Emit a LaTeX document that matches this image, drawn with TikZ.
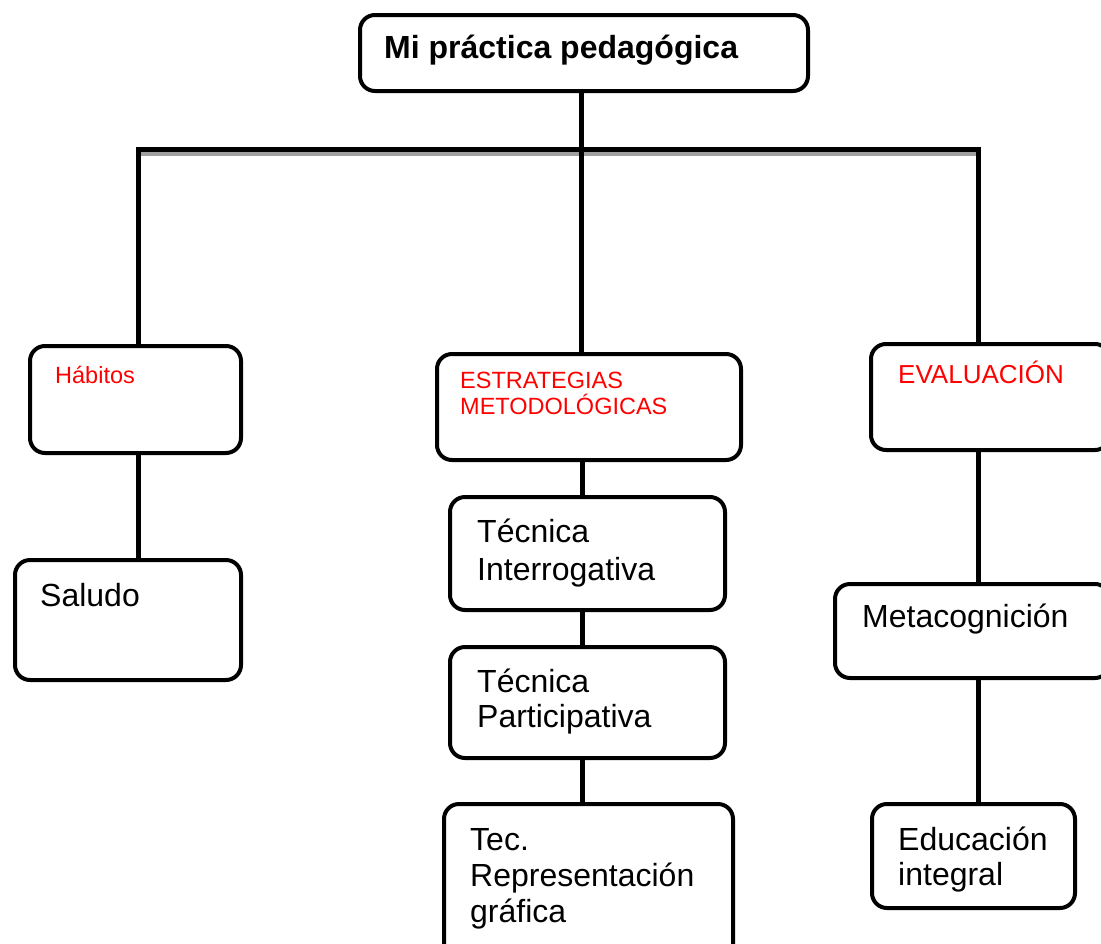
\documentclass[tikz,border=0pt]{standalone}
\usepackage{fontspec}
\setmainfont{Liberation Sans}
\begin{document}
\begin{tikzpicture}[x=1pt,y=-1pt,
  box/.style={draw=black, line width=4pt, rounded corners=15pt, inner sep=0pt, fill=white},
  conn/.style={draw=black, line width=5pt},
  lbl/.style={inner sep=0pt, anchor=base west},
  redlbl/.style={lbl, text=red}]
\useasboundingbox (0,0) rectangle (1101,943);
\clip (0,0) rectangle (1101,943);
% bus coordinates
\coordinate (busl) at (138,149);
\coordinate (busr) at (978,149);
\coordinate (busc) at (581,149);
\coordinate (colc) at (582,149);
% boxes
\node[box, minimum width=448pt, minimum height=76pt] (top) at (584,53) {};
\node[box, minimum width=211pt, minimum height=107pt] (hab) at (135.5,399.5) {};
\node[box, minimum width=226pt, minimum height=120pt] (sal) at (128,620) {};
\node[box, minimum width=304pt, minimum height=106pt] (est) at (589,407) {};
\node[box, minimum width=275pt, minimum height=113pt] (ti) at (587.5,553.5) {};
\node[box, minimum width=275pt, minimum height=111pt] (tp) at (587.5,702.5) {};
\node[box, minimum width=289pt, minimum height=156pt] (tr) at (588.5,882) {};
\node[box, minimum width=239pt, minimum height=106pt] (ev) at (990.5,397) {};
\node[box, minimum width=275pt, minimum height=94pt] (meta) at (972.5,631) {};
\node[box, minimum width=203pt, minimum height=104pt] (edu) at (973.5,856) {};
% connectors
\draw[line width=5pt, draw={rgb,255:red,160;green,160;blue,160}] ([yshift=-4.5pt]busl) -- ([yshift=-4.5pt,xshift=-2pt]busr);
\draw[conn, miter limit=10] (hab.north -| busl) -- (busl) -- (busr) -- (ev.north -| busr);
\draw[conn] (top.south -| busc) -- (est.north -| busc);
\draw[conn] (hab.south -| busl) -- (sal.north -| busl);
\draw[conn] (est.south -| colc) -- (ti.north -| colc);
\draw[conn] (ti.south -| colc) -- (tp.north -| colc);
\draw[conn] (tp.south -| colc) -- (tr.north -| colc);
\draw[conn] (ev.south -| busr) -- (meta.north -| busr);
\draw[conn] (meta.south -| busr) -- (edu.north -| busr);
% texts
\node[lbl, font=\fontsize{32}{38}\selectfont\bfseries] (top-t) at (384,58) {Mi práctica pedagógica};
\node[redlbl, font=\fontsize{23.5}{27}\selectfont] (hab-t) at (55,383) {Hábitos};
\node[redlbl, font=\fontsize{23.5}{26}\selectfont] (est-t) at (460,388) {\vtop{\hbox{ESTRATEGIAS}\hbox{METODOLÓGICAS}}};
\node[redlbl, font=\fontsize{26}{30}\selectfont] (ev-t) at (898,383) {EVALUACIÓN};
\node[lbl, font=\fontsize{32}{38}\selectfont] (sal-t) at (40,606) {Saludo};
\node[lbl, font=\fontsize{32}{38}\selectfont] (ti-t) at (477,542) {\vtop{\hbox{Técnica}\hbox{Interrogativa}}};
\node[lbl, font=\fontsize{32}{35}\selectfont] (tp-t) at (477,692) {\vtop{\hbox{Técnica}\hbox{Participativa}}};
\node[lbl, font=\fontsize{32}{36}\selectfont] (tr-t) at (470,850) {\vtop{\hbox{Tec.}\hbox{Representación}\hbox{gráfica}}};
\node[lbl, font=\fontsize{32}{38}\selectfont] (meta-t) at (862,627) {Metacognición};
\node[lbl, font=\fontsize{32}{35}\selectfont] (edu-t) at (898,850) {\vtop{\hbox{Educación}\hbox{integral}}};
\end{tikzpicture}
\end{document}
